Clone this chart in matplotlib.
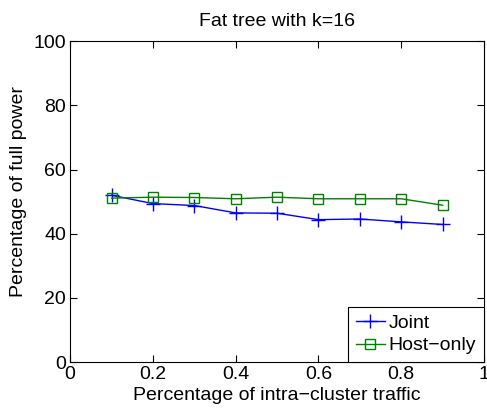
import matplotlib as mpl
mpl.use('Agg')
import matplotlib.pyplot as plt

# data
traffic = [0.1, 0.2, 0.3, 0.4, 0.5, 0.6, 0.7, 0.8, 0.9]
joint = [52.0, 49.4, 48.8, 46.5, 46.4, 44.4, 44.6, 43.7, 42.9]
host_only = [51.1, 51.4, 51.3, 50.9, 51.4, 50.9, 50.9, 50.9, 48.9]

plt.rcParams['font.family'] = ['Liberation Sans', 'DejaVu Sans']

fig = plt.figure(figsize=(4.87, 4.12), dpi=100, facecolor='w')
ax = fig.add_axes([0.144, 0.121, 0.850, 0.779])

ax.plot(traffic, joint, color='b', marker='+', markersize=10, linewidth=1, label='Joint')
ax.plot(traffic, host_only, color='g', marker='s', markersize=7, markerfacecolor='none',
        linewidth=1, label='Host\u2212only')

ax.set_xlim(0, 1)
ax.set_ylim(0, 100)
ax.set_xticks([0, 0.2, 0.4, 0.6, 0.8, 1])
ax.set_xticklabels(['0', '0.2', '0.4', '0.6', '0.8', '1'])
ax.set_yticks([0, 20, 40, 60, 80, 100])
ax.tick_params(direction='in', top=True, right=True, labelsize=14, length=5, pad=3)
for sp in ax.spines.values():
    sp.set_linewidth(0.8)

ax.set_xlabel('Percentage of intra\u2212cluster traffic', fontsize=14, labelpad=3)
ax.set_ylabel('Percentage of full power', fontsize=14)
ax.yaxis.set_label_coords(-0.104, 0.533)
ax.set_title('Fat tree with k=16', fontsize=14, pad=11)

leg = ax.legend(loc='lower right', fontsize=14, fancybox=False, framealpha=1,
                edgecolor='k', borderaxespad=0, handlelength=1.5, handletextpad=0.2,
                borderpad=0.4, labelspacing=0.25)
leg.get_frame().set_linewidth(0.8)

plt.savefig('out.png', dpi=100)
plt.close(fig)
